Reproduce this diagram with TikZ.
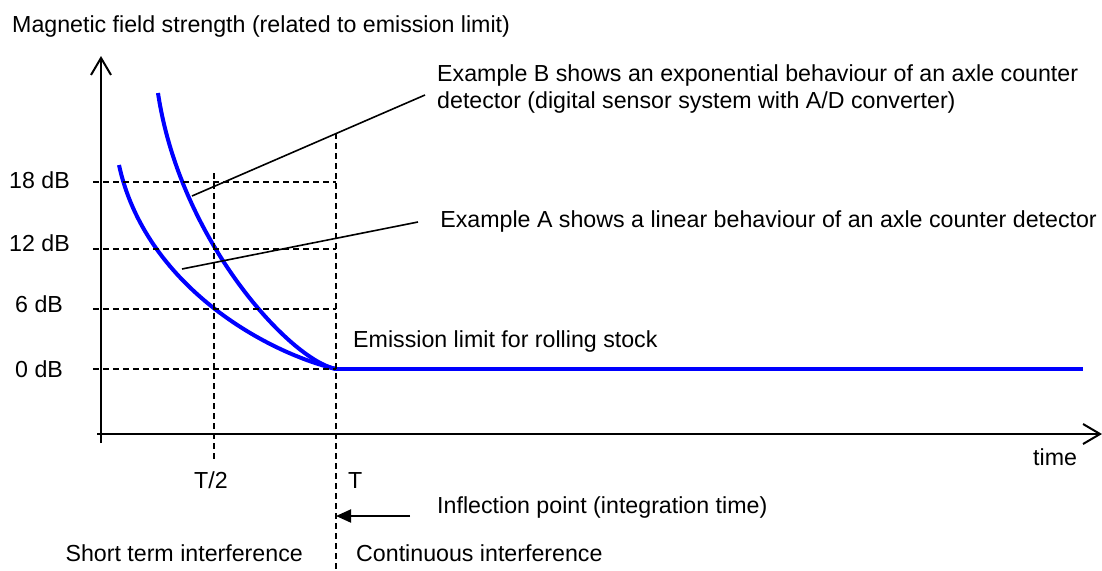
\documentclass[tikz,border=0pt]{standalone}
\usepackage{fontspec}
\setmainfont{Liberation Sans}
\usetikzlibrary{arrows.meta}
\begin{document}
\begin{tikzpicture}[x=1pt,y=-1pt,
  lbl/.style={inner sep=0pt, anchor=base west, font=\fontsize{23.2}{27}\selectfont},
  gridline/.style={line width=1.5pt, dash pattern=on 6pt off 4pt},
  axisline/.style={line width=2pt, -{Straight Barb[length=17pt,width=20pt,line width=2pt]}},
  bluecurve/.style={blue, line width=4pt},
  pointer/.style={line width=1.6pt},
  flowarrow/.style={line width=2pt, -{Triangle[length=15pt,width=13pt]}}]
\useasboundingbox (0,0) rectangle (1102,570);

% axes
\coordinate (ybot) at (101,443);
\coordinate (ytop) at (101,56);
\coordinate (xleft) at (97,434);
\coordinate (xright) at (1102,434);
\draw[axisline] (ybot) -- (ytop);
\draw[axisline] (xleft) -- (xright);

% curves
\coordinate (Astart) at (119,165);
\coordinate (Bstart) at (158,93);
\coordinate (Tz) at (336,369);
\coordinate (blueend) at (1083,369);
\draw[bluecurve] (Astart) .. controls (145,285) and (265,352) .. (Tz);
\draw[bluecurve] (Bstart) .. controls (180,240) and (290,360) .. (Tz);
\draw[bluecurve] (Tz) -- (blueend);

% grid lines
\coordinate (h18a) at (93,182); \coordinate (h18b) at (336,182);
\coordinate (h12a) at (93,249); \coordinate (h12b) at (336,249);
\coordinate (h6a) at (93,309); \coordinate (h6b) at (336,309);
\coordinate (h0a) at (93,369); \coordinate (h0b) at (336,369);
\coordinate (vhta) at (214,173); \coordinate (vhtb) at (214,460);
\coordinate (vta) at (336,133); \coordinate (vtb) at (336,570);
\draw[gridline] (h18a) -- (h18b);
\draw[gridline] (h12a) -- (h12b);
\draw[gridline] (h6a) -- (h6b);
\draw[gridline] (h0a) -- (h0b);
\draw[gridline] (vhta) -- (vhtb);
\draw[gridline] (vta) -- (vtb);

% pointers
\coordinate (pBa) at (192,196); \coordinate (pBb) at (425,95);
\coordinate (pAa) at (182,269); \coordinate (pAb) at (418,222);
\draw[pointer] (pBa) -- (pBb);
\draw[pointer] (pAa) -- (pAb);

% labels
\node[lbl] (title) at (12,32) {Magnetic field strength (related to emission limit)};
\node[lbl] (d18) at (9,188) {18 dB};
\node[lbl] (d12) at (9,251) {12 dB};
\node[lbl] (d6) at (15,312) {6 dB};
\node[lbl] (d0) at (15,377) {0 dB};
\node[lbl] (th) at (194,488) {T/2};
\node[lbl] (tt) at (348,488) {T};
\node[lbl] (time) at (1033,465) {time};
\node[lbl] (infl) at (437,513) {Inflection point (integration time)};
\node[lbl, anchor=base east] (short) at (303,561) {Short term interference};
\node[lbl] (cont) at (356,561) {Continuous interference};
\node[lbl] (emis) at (353,347) {Emission limit for rolling stock};
\node[lbl, anchor=base east] (exA) at (1097,227) {Example A shows a linear behaviour of an axle counter detector};
\node[lbl] (exB1) at (437,81) {Example B shows an exponential behaviour of an axle counter};
\node[lbl] (exB2) at (437,108) {detector (digital sensor system with A/D converter)};

% inflection arrow
\coordinate (arrS) at (410,516);
\coordinate (arrE) at (336,516);
\draw[flowarrow] (arrS) -- (arrE);
\end{tikzpicture}
\end{document}
